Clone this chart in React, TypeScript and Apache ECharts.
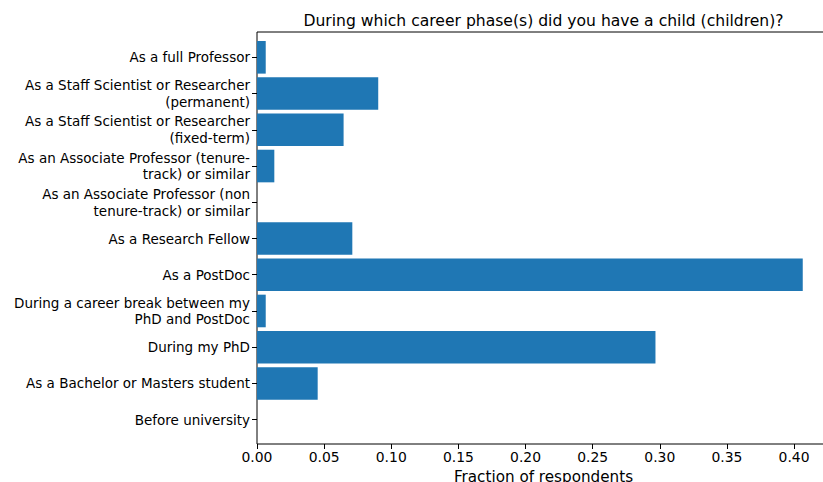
import React, { useEffect, useRef } from "react";
import * as echarts from "echarts";

const categories = [
  "As a full Professor",
  "As a Staff Scientist or Researcher\n(permanent)",
  "As a Staff Scientist or Researcher\n(fixed-term)",
  "As an Associate Professor (tenure-\ntrack) or similar",
  "As an Associate Professor (non\ntenure-track) or similar",
  "As a Research Fellow",
  "As a PostDoc",
  "During a career break between my\nPhD and PostDoc",
  "During my PhD",
  "As a Bachelor or Masters student",
  "Before university",
];
const fractions = [0.0065, 0.0903, 0.0645, 0.0129, 0, 0.071, 0.4065, 0.0065, 0.2968, 0.0452, 0];
const xTickStep = 0.05;
const xMax = 0.4268;
const titleText = "During which career phase(s) did you have a child (children)?";
const xLabel = "Fraction of respondents";

const FONT = "DejaVu Sans";

export default function App() {
  const ref = useRef<HTMLDivElement>(null);
  useEffect(() => {
    if (!ref.current) return;
    const chart = echarts.init(ref.current, undefined, { renderer: "svg" });
    const plotLeft = 257;
    const plotRight = -7;
    chart.setOption({
      animation: false,
      backgroundColor: "#fff",
      graphic: [
        {
          type: "text",
          x: 543.5,
          y: 21,
          style: {
            text: titleText,
            font: `15.6px "${FONT}"`,
            fill: "#000",
            textAlign: "center",
            textVerticalAlign: "middle",
          },
        },
      ],
      grid: [
        {
          left: plotLeft,
          right: plotRight,
          top: 32,
          bottom: 38,
          show: true,
          borderColor: "#000",
          borderWidth: 1,
          backgroundColor: "transparent",
          containLabel: false,
          outerBoundsMode: "none",
        },
        {
          left: plotLeft,
          right: plotRight,
          top: 39.2,
          bottom: 44.2,
          containLabel: false,
          outerBoundsMode: "none",
        },
      ],
      xAxis: [
        {
          gridIndex: 0,
          type: "value",
          min: 0,
          max: xMax,
          interval: xTickStep,
          axisLine: { show: false },
          axisTick: { show: true, length: 5, lineStyle: { color: "#000", width: 1 } },
          axisLabel: {
            color: "#000",
            fontFamily: FONT,
            fontSize: 13.9,
            margin: 6,
            showMaxLabel: false,
            formatter: (v: number) => v.toFixed(2),
          },
          splitLine: { show: false },
          name: xLabel,
          nameLocation: "middle",
          nameGap: 25,
          nameTextStyle: { color: "#000", fontFamily: FONT, fontSize: 15.2 },
        },
        {
          gridIndex: 1,
          type: "value",
          min: 0,
          max: xMax,
          show: false,
        },
      ],
      yAxis: [
        { gridIndex: 0, type: "value", show: false, min: 0, max: 1 },
        {
          gridIndex: 1,
          type: "category",
          inverse: true,
          data: categories,
          axisLine: { show: false },
          axisTick: {
            show: true,
            alignWithLabel: true,
            length: 5,
            lineStyle: { color: "#000", width: 1 },
          },
          axisLabel: {
            color: "#000",
            fontFamily: FONT,
            fontSize: 13.5,
            lineHeight: 16.6,
            margin: 7,
            align: "right",
            interval: 0,
          },
        },
      ],
      series: [
        {
          type: "bar",
          xAxisIndex: 1,
          yAxisIndex: 1,
          data: fractions,
          barCategoryGap: "10%",
          itemStyle: { color: "#1f77b4" },
        },
      ],
    });
    return () => chart.dispose();
  }, []);
  return (
    <div
      ref={ref}
      style={{ position: "absolute", left: 0, top: 0, width: 823, height: 482 }}
    />
  );
}
